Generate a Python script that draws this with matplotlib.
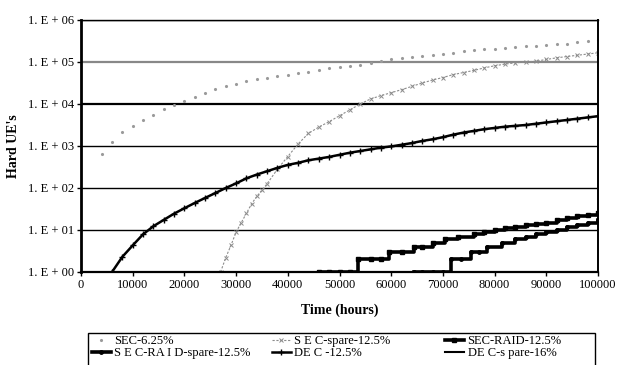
import matplotlib.pyplot as plt
import numpy as np
from matplotlib.patches import Rectangle
from matplotlib.ticker import FuncFormatter, NullLocator

plt.rcParams['font.family'] = ['Liberation Serif', 'DejaVu Serif']

# values
t_sec625 = [4000, 6000, 8000, 10000, 12000, 14000, 16000, 18000, 20000, 22000,
            24000, 26000, 28000, 30000, 32000, 34000, 36000, 38000, 40000, 42000,
            44000, 46000, 48000, 50000, 52000, 54000, 56000, 58000, 60000, 62000,
            64000, 66000, 68000, 70000, 72000, 74000, 76000, 78000, 80000, 82000,
            84000, 86000, 88000, 90000, 92000, 94000, 96000, 98000, 100000]
sec625 = [630, 1260, 2190, 3020, 4170, 5500, 7590, 9330, 11750, 14790,
          18620, 22910, 26300, 30200, 35480, 38900, 41700, 45700, 49000, 53700,
          58900, 63100, 70800, 77600, 81300, 85100, 95500, 104700, 114800, 125900,
          134900, 141300, 144500, 151400, 166000, 182000, 195000, 199500, 208900, 213800,
          223900, 234400, 245500, 257000, 263000, 275400, 295100, 316200, 338800]

t_sec_spare = [27000, 28000, 29000, 30000, 31000, 32000, 33000, 34000, 35000, 36000,
               38000, 40000, 42000, 44000, 46000, 48000, 50000, 52000, 54000, 56000,
               58000, 60000, 62000, 64000, 66000, 68000, 70000, 72000, 74000, 76000,
               78000, 80000, 82000, 84000, 86000, 88000, 90000, 92000, 94000, 96000,
               98000, 100000]
sec_spare = [1, 2.2, 4.3, 8.9, 15, 25, 42, 63, 89, 126,
             282, 562, 1120, 2000, 2820, 3800, 5250, 7240, 10000, 13200,
             15800, 18600, 21900, 26300, 31600, 37200, 42700, 50100, 56200, 63100,
             72400, 81300, 89100, 95500, 100000, 104700, 114800, 125900, 134900, 144500,
             154900, 166000]

t_raid = [46000, 48000, 50000, 52000, 53500, 56000, 58000, 59500, 62000, 64500,
          66000, 68000, 70500, 73000, 76000, 78000, 80000, 82000, 84000, 86000,
          88000, 90000, 92000, 94000, 96000, 98000, 100000]
sec_raid = [1, 1, 1, 1, 2, 2, 2, 3, 3, 4,
            4, 5, 6, 7, 8, 9, 10, 11, 12, 13,
            14, 15, 17, 19, 21, 23, 25]

t_raid_spare = [64500, 66000, 68000, 70000, 71500, 73500, 75500, 77000, 78500, 81500,
                84000, 86000, 88000, 90000, 92000, 94000, 96000, 98000, 100000]
sec_raid_spare = [1, 1, 1, 1, 2, 2, 3, 3, 4, 5,
                  6, 7, 8, 9, 10, 12, 13, 15, 17]

t_dec = [6000, 8000, 10000, 12000, 14000, 16000, 18000, 20000, 22000, 24000,
         26000, 28000, 30000, 32000, 34000, 36000, 38000, 40000, 42000, 44000,
         46000, 48000, 50000, 52000, 54000, 56000, 58000, 60000, 62000, 64000,
         66000, 68000, 70000, 72000, 74000, 76000, 78000, 80000, 82000, 84000,
         86000, 88000, 90000, 92000, 94000, 96000, 98000, 100000]
dec = [1, 2.3, 4.3, 7.9, 12.3, 17.4, 24.5, 33, 44, 58,
       76, 100, 129, 170, 209, 251, 302, 355, 398, 457,
       501, 550, 617, 692, 759, 832, 912, 977, 1070, 1175,
       1318, 1445, 1622, 1862, 2089, 2291, 2512, 2692, 2884, 3020,
       3162, 3388, 3631, 3890, 4169, 4467, 4786, 5129]

t_dec_spare = []
dec_spare = []

labels = ['SEC-6.25%', 'S E C-spare-12.5%', 'SEC-RAID-12.5%',
          'S E C-RA I D-spare-12.5%', 'DE C -12.5%', 'DE C-s pare-16%']

W, H = 619, 365
fig = plt.figure(figsize=(W / 100, H / 100), dpi=100)
ax = fig.add_axes([81 / W, 1 - 272 / H, 517 / W, 252 / H])

h1, = ax.plot(t_sec625, sec625, ls='none', marker='.', ms=2.5, color='#9a9a9a')
h2, = ax.plot(t_sec_spare, sec_spare, ls=(0, (2, 1.5)), lw=0.8, marker='x', ms=3,
              mew=0.7, color='#8c8c8c')
h3, = ax.plot(t_raid, sec_raid, drawstyle='steps-post', lw=2.6, marker='s', ms=2.5,
              color='black')
h4, = ax.plot(t_raid_spare, sec_raid_spare, drawstyle='steps-post', lw=2.6, marker='o',
              ms=2.5, color='black')
h5, = ax.plot(t_dec, dec, lw=1.8, marker='+', ms=5, mew=1.0, color='black')
h6, = ax.plot(t_dec_spare, dec_spare, lw=1.5, color='black')

ax.set_yscale('log')
ax.set_ylim(1, 1e6)
ax.set_xlim(0, 100000)
ax.set_xticks(np.arange(0, 100001, 10000))
ax.set_yticks([1, 10, 100, 1e3, 1e4, 1e5, 1e6])
ax.yaxis.set_minor_locator(NullLocator())
ax.yaxis.set_major_formatter(FuncFormatter(
    lambda v, p: '1. E + %02d' % int(round(np.log10(v)))))
ax.tick_params(axis='both', labelsize=9, length=3, width=1, pad=2)

ax.yaxis.grid(True, color='black', lw=1.0)
ax.get_ygridlines()[5].set_color('#888888')
ax.get_ygridlines()[5].set_linewidth(1.6)
ax.get_ygridlines()[4].set_linewidth(1.6)

ax.spines['left'].set_linewidth(2)
ax.spines['bottom'].set_linewidth(1.6)
ax.spines['right'].set_linewidth(1.4)
ax.spines['top'].set_linewidth(1.0)
ax.spines['top'].set_linestyle((0, (6, 1)))

ax.set_xlabel('Time (hours)', fontsize=10, fontweight='bold', labelpad=9)
ax.set_ylabel("Hard UE's", fontsize=10, fontweight='bold', labelpad=6)

# legend: three columns placed by hand inside one frame (rows filled left to right)
fig.add_artist(Rectangle((88 / W, -0.05), 507 / W, (H - 333) / H + 0.05,
                         transform=fig.transFigure, fill=False, lw=1.0,
                         edgecolor='black'))
columns = [([h1, h4], [labels[0], labels[3]], 92),
           ([h2, h5], [labels[1], labels[4]], 272),
           ([h3, h6], [labels[2], labels[5]], 445)]
for hs, ls, x0 in columns:
    leg = fig.legend(hs, ls, loc='upper left', bbox_to_anchor=(x0 / W, 1 - 335 / H),
                     fontsize=9, frameon=False, borderpad=0, borderaxespad=0,
                     handlelength=1.5, handletextpad=0.3, labelspacing=0.0)

fig.savefig('out.png', dpi=100)
